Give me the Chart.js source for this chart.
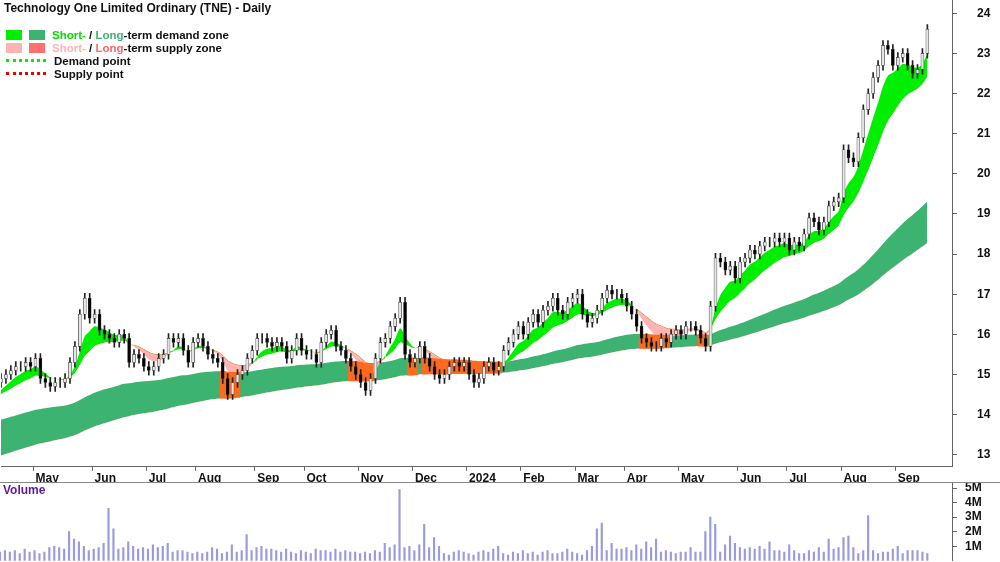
<!DOCTYPE html>
<html>
<head>
<meta charset="utf-8">
<script src="https://cdn.jsdelivr.net/npm/chart.js@4"></script>
<style>
  body { margin: 0; width: 1000px; height: 562px; background: #fff; overflow: hidden; font-family: Arial, "Liberation Sans", sans-serif; position: relative; }
  #priceBox { position: absolute; left: 0; top: -28px; width: 1000px; height: 522px; }
  #volBox { position: absolute; left: 0; top: 482px; width: 1000px; height: 80px; background: #fff; border-top: 1px solid #888; overflow: hidden; }
  #volInner { position: absolute; left: 0; top: -16px; width: 1000px; height: 109px; }
  .title { position: absolute; left: 4px; top: 1px; font-size: 12px; font-weight: bold; color: #111; }
  .legend { position: absolute; left: 6px; top: 29px; font-size: 11.5px; font-weight: bold; color: #111; line-height: 13px; }
  .legend div { height: 13px; white-space: nowrap; }
  .sw { display: inline-block; width: 16px; height: 10px; margin-right: 7px; vertical-align: -1px; }
  .dot { display: inline-block; width: 40px; height: 0; border-top: 3px dotted; margin-right: 8px; vertical-align: 3px; }
  .vlabel { position: absolute; left: 3px; top: 483px; font-size: 12px; font-weight: bold; color: #5b1a9a; }
</style>
</head>
<body>
<div id="priceBox"><canvas id="price"></canvas></div>
<div id="volBox"><div id="volInner"><canvas id="vol"></canvas></div></div>
<div class="title">Technology One Limited Ordinary (TNE) - Daily</div>
<div class="legend">
  <div><span class="sw" style="background:#00ee00"></span><span class="sw" style="background:#3cb371"></span><span style="color:#00dd00">Short-</span> / <span style="color:#3cb371">Long</span>-term demand zone</div>
  <div><span class="sw" style="background:#ffb3b3"></span><span class="sw" style="background:#ff7070"></span><span style="color:#ffb3b3">Short-</span> / <span style="color:#ff6666">Long</span>-term supply zone</div>
  <div><span class="dot" style="border-color:#00ee00"></span>Demand point</div>
  <div><span class="dot" style="border-color:#ee0000"></span>Supply point</div>
</div>
<div class="vlabel">Volume</div>
<script>
// one point = two trading days, starting 11 Apr 2023
const closes = [
  14.9, 15.0, 15.1, 15.2, 15.2, 15.3, 15.2, 15.4, 14.9, 14.8,
  14.7, 14.8, 14.8, 14.9, 15.3, 15.7, 16.5, 16.9, 16.4, 16.5,
  16.1, 16.0, 15.9, 15.8, 16.0, 15.9, 15.3, 15.5, 15.4, 15.2,
  15.1, 15.2, 15.4, 15.5, 15.9, 15.8, 15.9, 15.6, 15.3, 15.8,
  15.9, 15.7, 15.5, 15.4, 15.3, 14.9, 14.5, 14.8, 15.0, 15.1,
  15.4, 15.6, 15.9, 15.9, 15.8, 15.7, 15.8, 15.7, 15.4, 15.6,
  15.9, 15.6, 15.5, 15.5, 15.3, 15.8, 16.0, 16.1, 15.7, 15.6,
  15.4, 15.2, 15.0, 14.8, 14.6, 14.9, 15.4, 15.8, 15.9, 16.2,
  16.4, 16.8, 15.5, 15.3, 15.4, 15.7, 15.4, 15.2, 15.0, 14.9,
  15.0, 15.2, 15.3, 15.2, 15.3, 15.0, 14.8, 14.9, 15.2, 15.3,
  15.1, 15.2, 15.6, 15.8, 16.0, 16.2, 16.0, 16.3, 16.5, 16.3,
  16.6, 16.7, 16.9, 16.6, 16.5, 16.8, 16.9, 17.0, 16.5, 16.3,
  16.4, 16.6, 16.9, 17.1, 17.0, 17.0, 16.9, 16.7, 16.5, 16.2,
  15.9, 15.8, 15.7, 15.7, 15.9, 15.8, 16.0, 16.1, 16.0, 16.2,
  16.2, 16.1, 15.9, 15.7, 16.7, 17.9, 17.8, 17.6, 17.7, 17.4,
  17.8, 17.9, 18.1, 18.0, 18.2, 18.3, 18.3, 18.4, 18.3, 18.4,
  18.1, 18.3, 18.2, 18.5, 18.9, 18.8, 18.6, 18.8, 19.2, 19.3,
  19.4, 20.6, 20.4, 20.3, 20.9, 21.6, 22.0, 22.4, 22.7, 23.2,
  23.1, 22.7, 22.9, 23.0, 22.7, 22.5, 22.6, 23.0, 23.6
];
const volumes = [
  0.6, 0.7, 0.6, 0.7, 0.5, 0.8, 0.6, 0.7, 0.5, 0.6,
  0.9, 1.0, 0.9, 0.8, 2.0, 1.5, 1.3, 1.0, 0.7, 0.8,
  0.9, 1.2, 3.6, 2.2, 0.8, 0.9, 1.3, 1.0, 0.8, 0.9,
  0.8, 1.1, 0.9, 1.0, 1.2, 0.6, 0.7, 0.7, 0.6, 0.5,
  0.6, 0.5, 0.6, 0.9, 0.8, 0.5, 0.6, 1.1, 0.6, 0.7,
  1.8, 0.7, 0.9, 1.0, 0.8, 0.8, 0.7, 0.6, 0.8, 0.6,
  0.5, 0.7, 0.6, 0.5, 0.8, 0.7, 0.7, 0.6, 0.8, 0.6,
  0.7, 0.6, 0.6, 0.5, 0.6, 0.5, 0.7, 0.6, 1.2, 0.9,
  1.1, 4.9, 0.9, 1.0, 0.7, 1.1, 2.5, 0.9, 1.6, 1.0,
  0.5, 0.4, 0.6, 0.7, 0.6, 0.5, 0.4, 0.6, 0.7, 0.6,
  0.8, 1.0, 0.5, 0.4, 0.6, 0.5, 0.7, 0.5, 0.6, 0.4,
  0.6, 0.7, 0.5, 0.5, 0.6, 0.8, 0.6, 0.5, 0.4, 0.7,
  1.0, 2.2, 2.6, 0.7, 1.2, 0.8, 0.8, 0.9, 0.7, 1.1,
  0.8, 1.3, 0.9, 1.5, 0.6, 0.7, 0.6, 0.5, 0.6, 0.6,
  0.9, 0.6, 0.6, 2.0, 3.0, 2.5, 0.6, 1.1, 1.7, 1.2,
  0.9, 0.8, 0.9, 0.8, 1.0, 0.8, 1.3, 0.7, 0.7, 0.6,
  1.1, 0.7, 0.5, 0.5, 0.7, 0.6, 0.9, 0.6, 1.5, 0.8,
  0.9, 1.6, 1.7, 0.9, 0.5, 0.7, 3.1, 0.7, 0.5, 0.6,
  0.6, 0.8, 1.0, 0.5, 0.7, 0.7, 0.7, 0.6, 0.5
];
const volTicks = [1, 2, 3, 4, 5];
const priceTicks = [13, 14, 15, 16, 17, 18, 19, 20, 21, 22, 23, 24];
const wick = 0.12;
const blankPoints = 5; // empty slots to the right of the last candle
const bandSeeds = { fast: 14.5, slow: 14.45, longUp: 13.85, longLow: 12.95 };
const bandPeriods = { fast: 6, slow: 14, longUp: 70, longLow: 110 };
const monthNames = ['2024', 'Feb', 'Mar', 'Apr', 'May', 'Jun', 'Jul', 'Aug', 'Sep', 'Oct', 'Nov', 'Dec'];

// trading dates, every second weekday
let dates = []
let d = new Date(2023, 3, 11)
let k = 0
while (dates.length < closes.length + blankPoints) {
  if (d.getDay() !== 0 && d.getDay() !== 6) {
    if (k % 2 === 0) dates.push(new Date(d))
    k++
  }
  d.setDate(d.getDate() + 1)
}
let monthLabel = dates.map((dt, i) => {
  if (i === 0 || i >= closes.length || dt.getMonth() === dates[i - 1].getMonth()) return ''
  return monthNames[dt.getMonth()]
})
let labels = dates.map(dt => dt.toISOString().slice(0, 10))

function ema(vals, n, seed) {
  let a = 2 / (n + 1), e = seed
  return vals.map(v => (e = e + a * (v - e)))
}
const fast = ema(closes, bandPeriods.fast, bandSeeds.fast)
const slow = ema(closes, bandPeriods.slow, bandSeeds.slow)
const longUp = ema(closes, bandPeriods.longUp, bandSeeds.longUp)
const longLow = ema(closes, bandPeriods.longLow, bandSeeds.longLow)

const opens = closes.map((c, i) => (i === 0 ? 14.8 : closes[i - 1]))
const bodies = closes.map((c, i) => [opens[i], c])
const wicks = closes.map((c, i) => [Math.min(opens[i], c) - wick, Math.max(opens[i], c) + wick])
const bodyCol = closes.map((c, i) => (c >= opens[i] ? '#e4e4e4' : '#000'))
const supply = closes.map((c, i) => (c < longUp[i] ? [longLow[i], longUp[i]] : null))

const axisW = 48
const fitY = s => { s.width = axisW }
const tickFont = { size: 12, weight: 'bold', family: 'Arial' }

new Chart('price', {
  type: 'bar',
  data: {
    labels: labels,
    datasets: [
      { type: 'bar', data: wicks, backgroundColor: '#222', barThickness: 1, grouped: false, order: 1 },
      { type: 'bar', data: bodies, backgroundColor: bodyCol, borderColor: '#333', borderWidth: 0.6, borderSkipped: false, barThickness: 3, grouped: false, order: 0 },
      { type: 'bar', data: supply, backgroundColor: '#ff6a1f', barPercentage: 1, categoryPercentage: 1, grouped: false, order: 5 },
      { type: 'line', data: fast, borderWidth: 0, pointRadius: 0, tension: 0.3, fill: { target: '+1', above: '#00ee00', below: '#ffb3b3' }, order: 6 },
      { type: 'line', data: slow, borderColor: '#ff7a3c', borderWidth: 1, pointRadius: 0, tension: 0.3, order: 6,
        segment: { borderColor: c => (fast[c.p0DataIndex] >= slow[c.p0DataIndex] ? 'rgba(0,0,0,0)' : '#ff7a3c') } },
      { type: 'line', data: longUp, borderWidth: 0, pointRadius: 0, tension: 0.3, fill: { target: '+1', above: '#3cb371', below: '#ff7070' }, order: 7 },
      { type: 'line', data: longLow, borderWidth: 0, pointRadius: 0, tension: 0.3, order: 7 }
    ]
  },
  options: {
    responsive: true,
    maintainAspectRatio: false,
    animation: false,
    layout: { padding: 0 },
    plugins: { legend: { display: false }, tooltip: { enabled: false } },
    scales: {
      x: {
        offset: false,
        grid: { drawOnChartArea: false, tickLength: 4, color: c => (monthLabel[c.index] ? '#666' : 'rgba(0,0,0,0)') },
        border: { color: '#666' },
        ticks: { autoSkip: false, maxRotation: 0, align: 'start', padding: 1, color: '#111', font: tickFont,
          callback: (v, i) => monthLabel[i] }
      },
      y: {
        position: 'right', min: 12.7, max: 24.35, afterFit: fitY,
        afterBuildTicks: s => { s.ticks = priceTicks.map(v => ({ value: v })) },
        grid: { drawOnChartArea: false, tickLength: 5, color: '#666' },
        border: { color: '#666' },
        ticks: { autoSkip: false, color: '#111', padding: 20, font: tickFont }
      }
    }
  }
})

new Chart('vol', {
  type: 'bar',
  data: {
    labels: labels,
    datasets: [{ data: volumes.map(v => v * 1e6), backgroundColor: '#9a9ade', barThickness: 1.5 }]
  },
  options: {
    responsive: true,
    maintainAspectRatio: false,
    animation: false,
    layout: { padding: 0 },
    plugins: { legend: { display: false }, tooltip: { enabled: false } },
    scales: {
      x: { display: false, offset: false },
      y: {
        position: 'right', min: 0, max: 5.4e6, afterFit: fitY,
        afterBuildTicks: s => { s.ticks = volTicks.map(v => ({ value: v * 1e6 })) },
        grid: { drawOnChartArea: false, tickLength: 5, color: '#666' },
        border: { color: '#666' },
        ticks: { autoSkip: false, color: '#111', padding: 8, font: tickFont,
          callback: v => v / 1e6 + 'M' }
      }
    }
  }
})
</script>
</body>
</html>
